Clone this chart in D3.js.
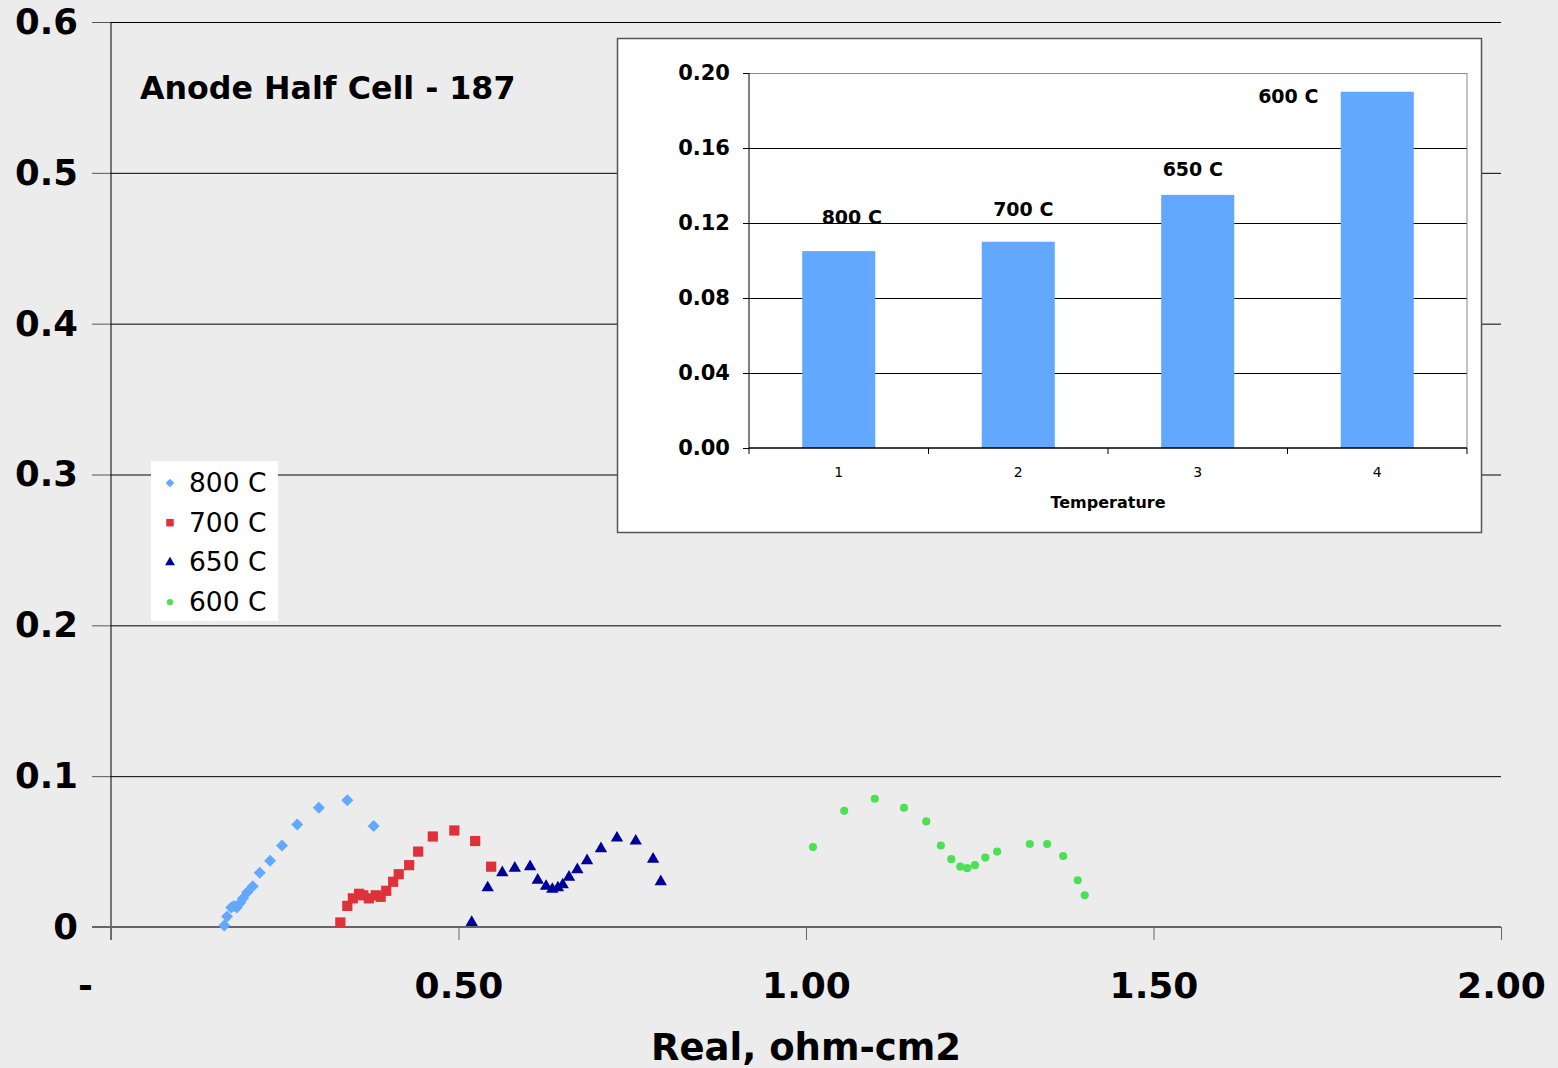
<!DOCTYPE html>
<html>
<head>
<meta charset="utf-8">
<script src="https://cdn.jsdelivr.net/npm/d3@7"></script>
<style>
  html, body { margin: 0; padding: 0; background: #ececec; }
  svg { display: block; font-family: "DejaVu Sans", Verdana, sans-serif; }
</style>
</head>
<body>
<div id="chart"></div>
<script>
// Nyquist data (Real vs -Imag, ohm-cm2)
const xTicks = [0, 0.5, 1.0, 1.5, 2.0];
const yTicks = [0, 0.1, 0.2, 0.3, 0.4, 0.5, 0.6];

const x800 = [0.163, 0.167, 0.173, 0.177, 0.181, 0.186, 0.190, 0.196, 0.204, 0.214, 0.229, 0.246, 0.268, 0.299, 0.340, 0.378];
const y800 = [0.001, 0.007, 0.013, 0.014, 0.013, 0.016, 0.019, 0.023, 0.027, 0.036, 0.044, 0.054, 0.068, 0.079, 0.084, 0.067];

const x700 = [0.330, 0.340, 0.348, 0.357, 0.363, 0.371, 0.381, 0.388, 0.396, 0.406, 0.414, 0.429, 0.442, 0.463, 0.494, 0.524, 0.547];
const y700 = [0.003, 0.014, 0.019, 0.022, 0.021, 0.019, 0.021, 0.020, 0.024, 0.030, 0.035, 0.041, 0.050, 0.060, 0.064, 0.057, 0.040];

const x650 = [0.519, 0.542, 0.563, 0.581, 0.603, 0.614, 0.626, 0.635, 0.643, 0.650, 0.659, 0.671, 0.685, 0.705, 0.728, 0.755, 0.780, 0.791];
const y650 = [0.003, 0.026, 0.036, 0.039, 0.040, 0.031, 0.027, 0.025, 0.026, 0.028, 0.033, 0.038, 0.044, 0.052, 0.059, 0.057, 0.045, 0.030];

const x600 = [1.010, 1.055, 1.099, 1.141, 1.173, 1.194, 1.209, 1.222, 1.232, 1.243, 1.258, 1.275, 1.322, 1.347, 1.370, 1.391, 1.401];
const y600 = [0.053, 0.077, 0.085, 0.079, 0.070, 0.054, 0.045, 0.040, 0.039, 0.041, 0.046, 0.050, 0.055, 0.055, 0.047, 0.031, 0.021];

const seriesNames = ["800 C", "700 C", "650 C", "600 C"];

// inset bar chart
const barCats = ["1", "2", "3", "4"];
const barValues = [0.105, 0.110, 0.135, 0.190];
const barLabels = ["800 C", "700 C", "650 C", "600 C"];
const insetTicks = [0, 0.04, 0.08, 0.12, 0.16, 0.20];

// ---- layout / style ----
const W = 1558, H = 1068;
const plot = {left: 111, right: 1501, top: 22, bottom: 927};
const inset = {x: 617, y: 38, w: 864, h: 494, left: 749, right: 1467, top: 73, bottom: 448};
const colors = ["#62a8ff", "#e0303a", "#000099", "#4de055"];
const shapes = [d3.symbolSquare, d3.symbolSquare, d3.symbolTriangle, d3.symbolCircle];
const rotations = [45, 0, 0, 0];
const sizes = [72, 104, 66, 52];
const legendSizes = [38, 56, 42, 32];
const labelNudge = [[13, -27], [5, -26], [-5, -19], [-89, 11]];

const series = [[x800, y800], [x700, y700], [x650, y650], [x600, y600]].map(function(s, i) {
  return {name: seriesNames[i], pts: s[0].map(function(v, j) { return {x: v, y: s[1][j]}; })};
});

const svg = d3.select("#chart").append("svg")
  .attr("width", W).attr("height", H);

svg.append("rect").attr("width", W).attr("height", H).attr("fill", "#ececec");

const x = d3.scaleLinear().domain([0, 2]).range([plot.left, plot.right]);
const y = d3.scaleLinear().domain([0, 0.6]).range([plot.bottom, plot.top]);

// gridlines
svg.append("g")
  .attr("transform", "translate(" + plot.left + ",0)")
  .call(d3.axisLeft(y).tickValues(yTicks.slice(1)).tickSize(-(plot.right - plot.left)).tickFormat(""))
  .call(function(g) { g.select(".domain").remove(); })
  .selectAll("line").attr("stroke", "#000").attr("stroke-width", 1);

// y axis ticks + labels
svg.append("g")
  .attr("transform", "translate(" + plot.left + ",0)")
  .call(d3.axisLeft(y).tickValues(yTicks).tickSize(19).tickPadding(14)
    .tickFormat(function(d) { return d === 0 ? "0" : d3.format(".1f")(d); }))
  .call(function(g) {
    g.select(".domain").remove();
    g.selectAll("line").attr("stroke", "#555");
    g.selectAll("text").attr("font-size", 35.5).attr("font-weight", "bold")
      .attr("font-family", "DejaVu Sans").attr("fill", "#000");
  });

// y axis line
svg.append("line")
  .attr("x1", plot.left).attr("x2", plot.left)
  .attr("y1", y(0.6)).attr("y2", plot.bottom + 13)
  .attr("stroke", "#000").attr("stroke-width", 1);

// x axis
svg.append("g")
  .attr("transform", "translate(0," + plot.bottom + ")")
  .call(d3.axisBottom(x).tickValues(xTicks).tickSize(13).tickPadding(32)
    .tickFormat(function(d) { return d === 0 ? "-" : d3.format(".2f")(d); }))
  .call(function(g) {
    g.select(".domain").attr("stroke", "#666").attr("stroke-width", 2)
      .attr("d", "M" + (plot.left - 19) + ",0H" + plot.right);
    g.selectAll("line").attr("stroke", "#666");
    g.selectAll("text").attr("font-size", 36).attr("font-weight", "bold")
      .attr("font-family", "DejaVu Sans").attr("fill", "#000");
    g.selectAll(".tick").filter(function(d) { return d === 0; })
      .select("text").attr("dx", -26);
  });

svg.append("text")
  .attr("x", x(1)).attr("y", 1060)
  .attr("text-anchor", "middle")
  .attr("font-size", 37).attr("font-weight", "bold")
  .text("Real, ohm-cm2");

svg.append("text")
  .attr("x", 140).attr("y", 99)
  .attr("font-size", 31.7).attr("font-weight", "bold")
  .text("Anode Half Cell - 187");

// points
series.forEach(function(s, i) {
  svg.append("g").selectAll("path")
    .data(s.pts)
    .enter().append("path")
      .attr("d", d3.symbol().type(shapes[i]).size(sizes[i]))
      .attr("transform", function(d) {
        return "translate(" + x(d.x) + "," + y(d.y) + ") rotate(" + rotations[i] + ")";
      })
      .attr("fill", colors[i]);
});

// legend
const legend = svg.append("g");
legend.append("rect")
  .attr("x", 151).attr("y", 461).attr("width", 127).attr("height", 160)
  .attr("fill", "#fff");
seriesNames.forEach(function(name, i) {
  const cy = 483 + i * 39.7;
  legend.append("path")
    .attr("d", d3.symbol().type(shapes[i]).size(legendSizes[i]))
    .attr("transform", "translate(170," + cy + ") rotate(" + rotations[i] + ")")
    .attr("fill", colors[i]);
  legend.append("text")
    .attr("x", 189).attr("y", cy + 9)
    .attr("font-size", 26.5)
    .text(name);
});

// ---- inset bar chart ----
const ins = svg.append("g");
ins.append("rect")
  .attr("x", inset.x + 0.5).attr("y", inset.y + 0.5)
  .attr("width", inset.w).attr("height", inset.h)
  .attr("fill", "#fff").attr("stroke", "#555").attr("stroke-width", 1.5);

const xb = d3.scaleBand().domain(barCats).range([inset.left, inset.right])
  .paddingInner(0.593).paddingOuter(0.2965);
const yb = d3.scaleLinear().domain([0, 0.2]).range([inset.bottom, inset.top]);

// inset gridlines
ins.append("g")
  .attr("transform", "translate(" + inset.left + ",0)")
  .call(d3.axisLeft(yb).tickValues(insetTicks.slice(1)).tickSize(-(inset.right - inset.left)).tickFormat(""))
  .call(function(g) {
    g.select(".domain").remove();
    g.selectAll("line").attr("stroke", function(d) { return d === 0.2 ? "#888" : "#000"; });
  });

ins.append("line")
  .attr("x1", inset.right).attr("x2", inset.right)
  .attr("y1", inset.top).attr("y2", inset.bottom)
  .attr("stroke", "#888");

// bars
ins.append("g").selectAll("rect")
  .data(barValues)
  .enter().append("rect")
    .attr("x", function(d, i) { return xb(barCats[i]); })
    .attr("y", function(d) { return yb(d); })
    .attr("width", xb.bandwidth())
    .attr("height", function(d) { return yb(0) - yb(d); })
    .attr("fill", "#62a8ff");

// bar labels
ins.append("g").selectAll("text")
  .data(barValues)
  .enter().append("text")
    .attr("x", function(d, i) { return xb(barCats[i]) + xb.bandwidth() / 2 + labelNudge[i][0]; })
    .attr("y", function(d, i) { return yb(d) + labelNudge[i][1]; })
    .attr("text-anchor", "middle")
    .attr("font-size", 19).attr("font-weight", "bold")
    .text(function(d, i) { return barLabels[i]; });

// inset y axis
ins.append("g")
  .attr("transform", "translate(" + inset.left + ",0)")
  .call(d3.axisLeft(yb).tickValues(insetTicks).tickSize(6).tickPadding(13).tickFormat(d3.format(".2f")))
  .call(function(g) {
    g.selectAll("line").attr("stroke", "#000");
    g.select(".domain").attr("stroke", "#000").attr("d", "M0," + inset.top + "V" + inset.bottom);
    g.selectAll("text").attr("font-size", 21).attr("font-weight", "bold")
      .attr("font-family", "DejaVu Sans").attr("fill", "#000");
  });

// inset x axis: labels at band centres, ticks at band edges
ins.append("g")
  .attr("transform", "translate(0," + inset.bottom + ")")
  .call(d3.axisBottom(xb).tickSize(0).tickPadding(19))
  .call(function(g) {
    g.select(".domain").attr("stroke", "#000").attr("stroke-width", 1.5)
      .attr("d", "M" + inset.left + ",0H" + inset.right);
    g.selectAll("text").attr("font-size", 14)
      .attr("font-family", "DejaVu Sans").attr("fill", "#000");
  });

const edges = barCats.map(function(c) { return xb(c) - xb.step() * 0.2965; }).concat([inset.right]);
ins.append("g").selectAll("line")
  .data(edges)
  .enter().append("line")
    .attr("x1", function(d) { return d; }).attr("x2", function(d) { return d; })
    .attr("y1", inset.bottom).attr("y2", inset.bottom + 6)
    .attr("stroke", "#000");

ins.append("text")
  .attr("x", (inset.left + inset.right) / 2).attr("y", 508)
  .attr("text-anchor", "middle")
  .attr("font-size", 16).attr("font-weight", "bold")
  .text("Temperature");
</script>
</body>
</html>
